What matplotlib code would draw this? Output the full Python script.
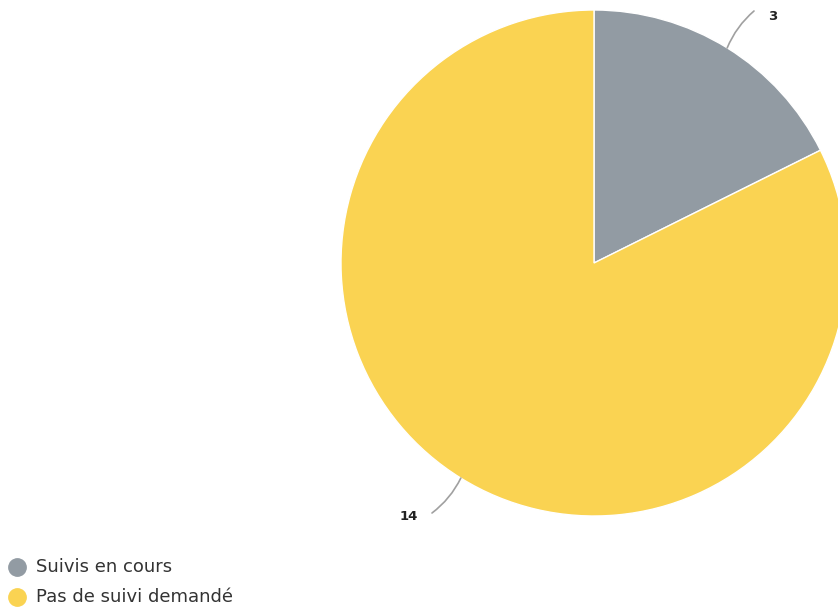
import matplotlib
matplotlib.use("Agg")
import matplotlib.pyplot as plt
import numpy as np
from matplotlib.lines import Line2D

categories = ["Suivis en cours", "Pas de suivi demandé"]
values = [3, 14]
colors = ["#929ba3", "#fad352"]

W, H = 838, 611
fig = plt.figure(figsize=(W / 100, H / 100), dpi=100)
cx, cy, r = 594, 263, 253
ax = fig.add_axes([(cx - r) / W, (H - (cy + r)) / H, 2 * r / W, 2 * r / H])

wedges, _ = ax.pie(values, colors=colors, startangle=90, counterclock=False,
                   radius=1, center=(0, 0), frame=True,
                   wedgeprops=dict(edgecolor="white", linewidth=1))
ax.set_xlim(-1, 1)
ax.set_ylim(-1, 1)
ax.axis("off")

label_cfg = [
    dict(end=(754, 11), text=(768, 16), ha="left", rad=0.12),
    dict(end=(432, 513), text=(418, 516), ha="right", rad=0.12),
]
for w, v, cfg in zip(wedges, values, label_cfg):
    ang = np.deg2rad((w.theta1 + w.theta2) / 2)
    p = (np.cos(ang), np.sin(ang))
    ex = ((cfg["end"][0] - cx) / r, (cy - cfg["end"][1]) / r)
    tx = ((cfg["text"][0] - cx) / r, (cy - cfg["text"][1]) / r)
    ax.annotate("", xy=p, xytext=ex,
                arrowprops=dict(arrowstyle="-", color="#a0a0a0", lw=1.2,
                                connectionstyle=f"arc3,rad={cfg['rad']}",
                                shrinkA=0, shrinkB=0),
                annotation_clip=False)
    ax.text(tx[0], tx[1], str(v), ha=cfg["ha"], va="center", fontsize=9.5,
            fontweight="bold", color="#222222", clip_on=False)

# legend drawn manually
leg_y = [567, 597]
for c, lab, y in zip(colors, categories, leg_y):
    fig.add_artist(Line2D([17 / W], [(H - y) / H], marker="o", linestyle="none",
                          markersize=12.5, markerfacecolor=c, markeredgecolor=c,
                          transform=fig.transFigure))
    fig.text(36 / W, (H - y) / H, lab, ha="left", va="center", fontsize=13,
             color="#333333")

fig.savefig("out.png", dpi=100)
